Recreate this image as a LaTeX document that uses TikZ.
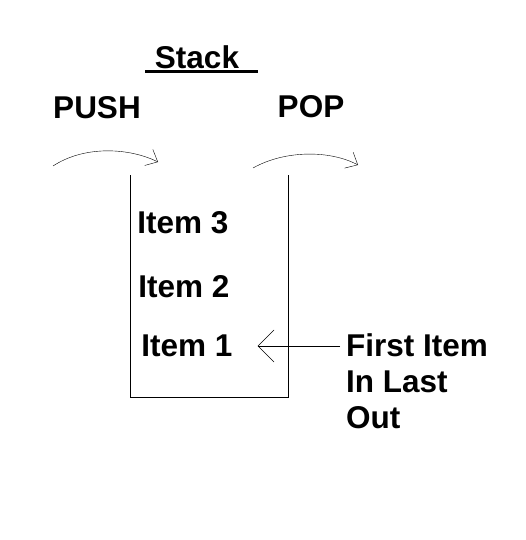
\documentclass[tikz,border=0pt]{standalone}
\usepackage{fontspec}
\setmainfont{Liberation Sans}
\usetikzlibrary{
    positioning,
    arrows.meta
}

\begin{document}
\begin{tikzpicture}[x=1pt, y=-1pt, >={Straight Barb[length=10pt, width=18pt]}]
    \tikzset{
        label/.style={font=\fontsize{31.5}{36}\selectfont\bfseries, inner sep=0pt},
        pointer/.style={-{Straight Barb[length=16pt, width=32pt]}}
    }
    \useasboundingbox (0,0) rectangle (526,540);

    % タイトル
    \node[label] (title) at (197,57) {Stack};
    \draw[line width=3pt] (145,72) -- (258,72);

    % 操作名
    \node[label] (push) at (97,108) {PUSH};
    \node[label] (pop) at (311,107) {POP};

    % スタックの箱 (上は開いている)
    \coordinate (TL) at (130,175);
    \coordinate (BL) at (130,397);
    \coordinate (BR) at (288,397);
    \coordinate (TR) at (288,175);
    \draw (TL) -- (BL) -- (BR) -- (TR);

    % 要素
    \node[label] (item3) at (183,223) {Item 3};
    \node[label] (item2) at (184,287) {Item 2};
    \node[label] (item1) at (187,346) {Item 1};

    % 曲線の矢印
    \coordinate (pushA) at (53,166);
    \coordinate (pushB) at (158,162);
    \draw[->] (pushA) .. controls (85,145) and (130,148) .. (pushB);
    \coordinate (popA) at (253,168);
    \coordinate (popB) at (358,165);
    \draw[->] (popA) .. controls (285,150) and (330,150) .. (popB);

    % 説明
    \node[label, align=left, anchor=north west] (note) at (346,333) {First Item\\In Last\\Out};
    \draw[pointer] ([xshift=-6pt]note.west |- item1.east) -- ([xshift=25pt]item1.east);
\end{tikzpicture}
\end{document}
